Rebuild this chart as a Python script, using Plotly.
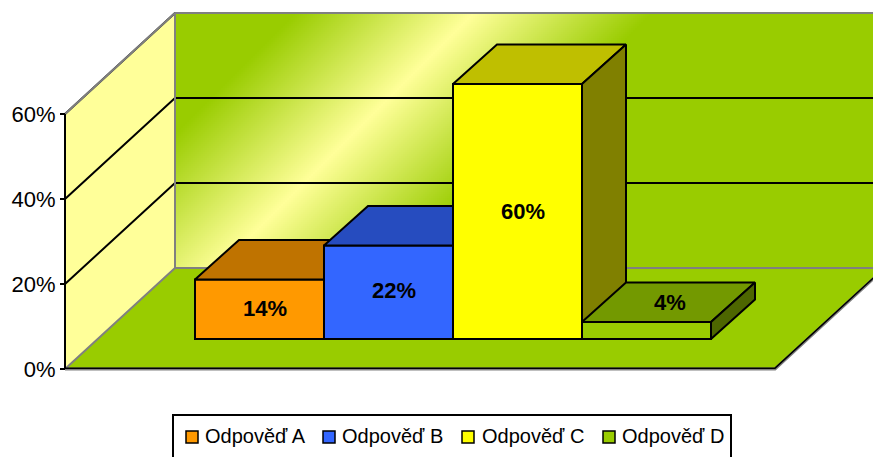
import numpy as np
import plotly.graph_objects as go

categories = ['Odpověď A', 'Odpověď B', 'Odpověď C', 'Odpověď D']
values = [14, 22, 60, 4]
labels = ['14%', '22%', '60%', '4%']
tick_vals = [0, 20, 40, 60]
tick_text = ['0%', '20%', '40%', '60%']

front_colors = ['#FF9900', '#3366FF', '#FFFF00', '#99CC00']
top_colors = ['#BF7300', '#264CBF', '#BFBF00', '#739900']
side_colors = ['#804D00', '#19337F', '#808000', '#4D6600']

# legend entries, pixel position of swatch and text
legend_swatch_x = [186, 323, 462, 603]
legend_text_x = [205, 342, 482, 622]

W, H = 873, 457
PX = 129.0   # pixels per bar width
PY = 4.25    # pixels per percent
X0 = 195     # pixel of first bar's left edge
Y0 = 369     # pixel of 0% on the front of the chart

# oblique offsets, in axis units
wall_dx, wall_dy = 110 / PX, 101 / PY
bar_dx, bar_dy = 44 / PX, 39.5 / PY
floor_base = 30 / PY
front_left, front_right = (65 - X0) / PX, (775 - X0) / PX
left_edge = (873 - X0) / PX + 1

x_range = [-X0 / PX, (W - X0) / PX]
y_range = [(Y0 - H) / PY, Y0 / PY]

fig = go.Figure()


def poly(xs, ys, fill, line='black', width=2, axes=('x', 'y')):
    fig.add_trace(go.Scatter(x=xs, y=ys, mode='lines', fill='toself', fillcolor=fill,
                             line=dict(color=line, width=width), showlegend=False,
                             hoverinfo='skip', xaxis=axes[0], yaxis=axes[1]))


def line(xs, ys, color='black', width=2, axes=('x', 'y')):
    fig.add_trace(go.Scatter(x=xs, y=ys, mode='lines', line=dict(color=color, width=width),
                             showlegend=False, hoverinfo='skip', xaxis=axes[0], yaxis=axes[1]))


# back wall gradient (diagonal green - pale yellow - green)
grid_x = np.arange(175, 890, 2)
grid_y = np.arange(14, 270, 2)
px, py = np.meshgrid(grid_x[:-1] + 1, grid_y[:-1] + 1)
shade = np.clip(np.abs(px + py - 487) / 178, 0, 1)
fig.add_trace(go.Heatmap(x=(grid_x - X0) / PX, y=(Y0 - grid_y) / PY, z=shade, zmin=0, zmax=1,
                         colorscale=[[0, '#FFFF99'], [1, '#99CC00']], showscale=False,
                         hoverinfo='skip'))

# side wall
poly([front_left, front_left + wall_dx, front_left + wall_dx, front_left],
     [0, wall_dy, 60 + wall_dy, 60], '#FFFF99', line='rgba(0,0,0,0)')
# floor
poly([front_left, front_right, front_right + wall_dx, front_left + wall_dx],
     [0, 0, wall_dy, wall_dy], '#99CC00', line='rgba(0,0,0,0)')

# gridlines
for v in tick_vals[1:]:
    line([front_left, front_left + wall_dx, left_edge], [v, v + wall_dy, v + wall_dy])

# wall edges
line([front_left, front_left + wall_dx, left_edge], [60, 60 + wall_dy, 60 + wall_dy], '#808080')
line([front_left + wall_dx, front_left + wall_dx], [wall_dy, 60 + wall_dy], '#808080')
line([front_left, front_left + wall_dx, left_edge], [0, wall_dy, wall_dy], '#808080')
line([front_left, front_right, front_right + wall_dx], [0, 0, wall_dy], '#808080', 3)
line([front_left, front_right, front_right + wall_dx], [0.2, 0.2, wall_dy + 0.2], 'black', 1.5)
line([front_left, front_left], [0, 60])

# bars, one overlay per category so that each one covers the previous
for i, (name, v) in enumerate(zip(categories, values)):
    n = i + 2
    ax = (f'x{n}', f'y{n}')
    fig.add_trace(go.Bar(x=[i + 0.5], y=[v], base=[floor_base], width=[1], name=name,
                         marker=dict(color=front_colors[i], line=dict(color='black', width=2)),
                         showlegend=False, hoverinfo='skip', xaxis=ax[0], yaxis=ax[1]))
    top = floor_base + v
    poly([i, i + bar_dx, i + 1 + bar_dx, i + 1, i],
         [top, top + bar_dy, top + bar_dy, top, top], top_colors[i], axes=ax)
    poly([i + 1, i + 1 + bar_dx, i + 1 + bar_dx, i + 1, i + 1],
         [top, top + bar_dy, floor_base + bar_dy, floor_base, top], side_colors[i], axes=ax)
    fig.update_layout({
        f'xaxis{n}': dict(range=x_range, overlaying='x', visible=False, fixedrange=True),
        f'yaxis{n}': dict(range=y_range, overlaying='y', visible=False, fixedrange=True),
    })

# data labels
label_pos = [floor_base + values[0] / 2 + 0.2, floor_base + values[1] / 2 + 0.4,
             floor_base + values[2] / 2 + 0.1, floor_base + values[3] + bar_dy / 2]
label_shift = [5.5, 5.5, 5.5, 23.5]
for i, txt in enumerate(labels):
    fig.add_annotation(x=i + 0.5, y=label_pos[i], xshift=label_shift[i], text=f'<b>{txt}</b>', showarrow=False,
                       font=dict(family='Liberation Sans', size=22, color='black'))

fig.update_layout(
    width=W, height=H,
    margin=dict(l=0, r=0, t=0, b=0),
    paper_bgcolor='white', plot_bgcolor='rgba(0,0,0,0)',
    barmode='overlay',
    xaxis=dict(range=x_range, visible=False, fixedrange=True),
    yaxis=dict(range=y_range, anchor='free', position=65 / W, tickvals=tick_vals, ticktext=tick_text,
               ticks='outside', ticklen=5, tickwidth=2, tickcolor='black', showgrid=False,
               zeroline=False, showline=False, fixedrange=True,
               tickfont=dict(family='Liberation Sans', size=22, color='black')),
    font=dict(family='Liberation Sans', color='black'),
    showlegend=False,
)

# legend frame runs off the bottom of the picture
fig.add_shape(type='rect', xref='paper', yref='paper', x0=173 / W, x1=731 / W, y0=-0.05, y1=1 - 415 / H,
              line=dict(color='black', width=2), fillcolor='white', layer='below')
for i, name in enumerate(categories):
    sx = legend_swatch_x[i]
    fig.add_shape(type='rect', xref='paper', yref='paper', x0=sx / W, x1=(sx + 12) / W,
                  y0=1 - 443 / H, y1=1 - 431 / H, line=dict(color='black', width=1.5),
                  fillcolor=front_colors[i])
    fig.add_annotation(xref='paper', yref='paper', x=legend_text_x[i] / W, y=1 - 436 / H, text=name,
                       xanchor='left', yanchor='middle', showarrow=False, xshift=-2,
                       font=dict(family='Liberation Sans', size=20, color='black'))

fig.write_html('out.html', config={'displayModeBar': False},
               post_script="document.body.style.margin='0';document.body.style.overflow='hidden';")
